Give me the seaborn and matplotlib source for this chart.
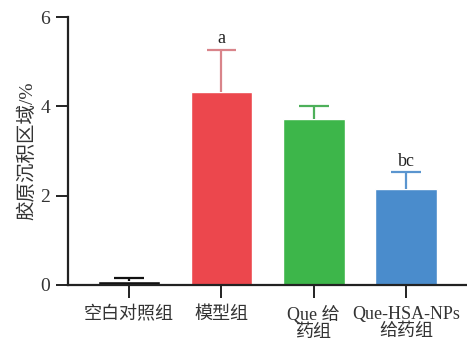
import matplotlib
matplotlib.use("Agg")
import matplotlib.pyplot as plt
import seaborn as sns
import pandas as pd

# Collagen deposition area per group (mean and SD)
groups = ["空白对照组", "模型组", "Que 给\n药组", "Que-HSA-NPs\n给药组"]
means = [0.09, 4.33, 3.71, 2.14]
sds = [0.06, 0.93, 0.29, 0.38]
marks = ["", "a", "", "bc"]
bar_colors = ["#111111", "#EC474D", "#3DB64A", "#4A8CCC"]
err_colors = ["#111111", "#D9848A", "#4DB05A", "#5A95CF"]
y_ticks = [0, 2, 4, 6]

sns.set_theme(style="white")
serif_cjk = ["Liberation Serif", "Noto Sans CJK SC"]
plt.rcParams["font.family"] = serif_cjk

df = pd.DataFrame({"group": groups, "value": means})

fig = plt.figure(figsize=(4.67, 3.47), dpi=100)
ax = fig.add_axes([0.146, 0.179, 0.854, 0.772])

sns.barplot(data=df, x="group", y="value", hue="group", palette=bar_colors,
            width=0.67, legend=False, ax=ax, saturation=1)

# upper-only error bars: stem from the bar top, cap at mean + SD
cap_half = 0.16
for i, (m, s) in enumerate(zip(means, sds)):
    ax.vlines(i, m, m + s, colors=err_colors[i], linewidth=1.6, zorder=1)
    ax.hlines(m + s, i - cap_half, i + cap_half, colors=err_colors[i],
              linewidth=1.6, zorder=1)
    if marks[i]:
        ax.text(i, m + s + 0.06, marks[i], ha="center", va="bottom",
                fontsize=13, color="#222222")

ax.set_ylim(0, 6)
ax.set_xlim(-0.66, 3.66)
ax.set_yticks(y_ticks)
ax.set_yticklabels([str(t) for t in y_ticks], fontsize=14, color="#333333")
ax.set_xticks(range(len(groups)))
ax.set_xticklabels(groups, fontsize=13, color="#333333", linespacing=1.0)
ax.set_xlabel("")
ax.set_ylabel("胶原沉积区域/%", fontsize=14, color="#333333", labelpad=3)

for side in ["top", "right"]:
    ax.spines[side].set_visible(False)
for side in ["left", "bottom"]:
    ax.spines[side].set_color("#222222")
    ax.spines[side].set_linewidth(1.6)

ax.tick_params(axis="both", direction="out", length=9, width=1.4,
               color="#222222", left=True, bottom=True, pad=4)
ax.tick_params(axis="x", pad=6)

fig.savefig("out.png", dpi=100)
